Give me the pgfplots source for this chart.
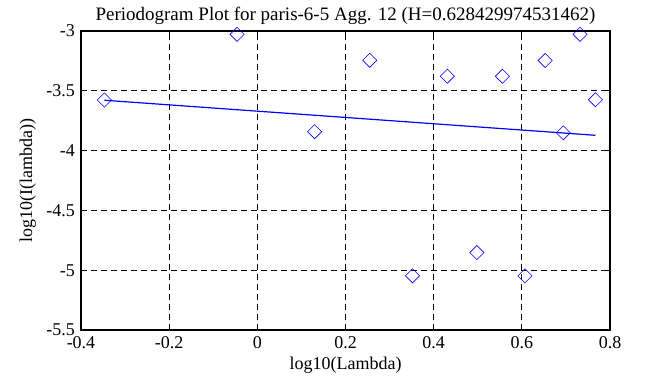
\documentclass[border=0pt]{standalone}
\usepackage{pgfplots}
\pgfplotsset{compat=1.18}
\usepackage{fontspec}
\setmainfont{Liberation Serif}
\begin{document}
\fontsize{18bp}{21bp}\selectfont
\begin{tikzpicture}
\useasboundingbox (-81bp,-57bp) rectangle (572bp,330bp);
\begin{axis}[
  at={(0,0)}, anchor=south west,
  scale only axis, width=529bp, height=299bp,
  xmin=-0.4, xmax=0.8, ymin=-5.5, ymax=-3,
  xtick={-0.4,-0.2,...,0.8}, ytick={-5.5,-5,...,-3},
  /pgf/number format/assume math mode=true,
  /pgf/number format/fixed, /pgf/number format/precision=1,
  xticklabel={\pgfmathprintnumber{\tick}},
  yticklabel={\pgfmathprintnumber{\tick}},
  axis line style={black, line width=1.6bp},
  tick style={black, line width=1.2bp}, tick align=inside, major tick length=5bp,
  grid=major, major grid style={black, dashed, line width=0.8bp, dash pattern=on 6bp off 4bp},
  title={Periodogram Plot for paris-6-5 Agg. 12 (H=0.628429974531462)},
  title style={at={(0.5,1)}, anchor=south, yshift=-2bp, inner sep=2bp, font=\rmfamily\fontsize{19bp}{22bp}\selectfont},
  xlabel={log10(Lambda)}, ylabel={log10(I(lambda))},
  xlabel style={yshift=4bp}, ylabel style={yshift=-2bp},
  tick label style={font=\rmfamily\fontsize{18bp}{21bp}\selectfont},
  label style={font=\rmfamily\fontsize{18bp}{21bp}\selectfont},
]
\addplot[only marks, mark=square, mark size=5bp, mark options={rotate=45, blue, line width=0.6bp}] coordinates {
(-0.347,-3.577) (-0.046,-3.028) (0.130,-3.842) (0.255,-3.245) (0.352,-5.047)
(0.431,-3.378) (0.498,-4.853) (0.556,-3.378) (0.607,-5.047) (0.653,-3.247)
(0.694,-3.851) (0.732,-3.028) (0.767,-3.575)
};
\addplot[blue, line width=1.2bp] coordinates {(-0.347,-3.579) (0.767,-3.872)};
\end{axis}
\end{tikzpicture}
\end{document}
